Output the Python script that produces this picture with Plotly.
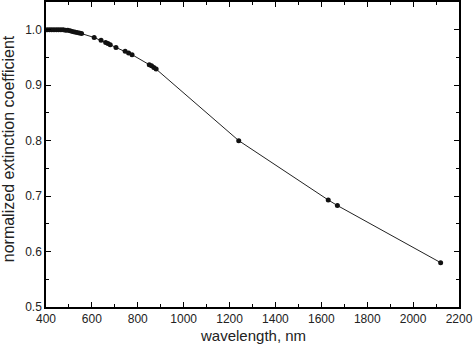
import plotly.graph_objects as go

wavelength = [405, 415, 425, 435, 445, 455, 465, 475, 485, 495, 505, 515, 525, 535, 545, 555,
              610, 640, 660, 670, 680, 705, 745, 760, 775, 850, 860, 870, 880,
              1240, 1630, 1670, 2120]
extinction = [1.000, 1.000, 1.000, 1.000, 1.000, 1.000, 1.000, 1.000, 0.999, 0.999, 0.998, 0.997, 0.996, 0.995, 0.994, 0.993,
              0.986, 0.981, 0.977, 0.975, 0.973, 0.968, 0.961, 0.958, 0.955, 0.937, 0.935, 0.932, 0.929,
              0.800, 0.693, 0.683, 0.580]

x_ticks = [400, 600, 800, 1000, 1200, 1400, 1600, 1800, 2000, 2200]
y_ticks = [0.5, 0.6, 0.7, 0.8, 0.9, 1.0]

FONT = "Liberation Sans, Arial, sans-serif"

fig = go.Figure(go.Scatter(
    x=wavelength, y=extinction, mode="lines+markers",
    line=dict(color="#222222", width=1),
    marker=dict(color="#111111", size=5),
))

axis_common = dict(
    showgrid=False, zeroline=False, showline=True, linecolor="black", linewidth=1.5,
    mirror="ticks", ticks="inside", ticklen=5, tickcolor="black", tickwidth=1,
    tickfont=dict(family=FONT, size=12, color="#222222"), automargin=False,
)

fig.update_layout(
    width=474, height=352,
    margin=dict(l=46, r=15, t=2, b=45),
    paper_bgcolor="white", plot_bgcolor="white",
    showlegend=False,
    xaxis=dict(
        range=[400, 2200], tickvals=x_ticks, ticktext=[str(v) for v in x_ticks],
        minor=dict(dtick=100, tick0=400, ticks="inside", ticklen=3, tickcolor="black"),
        **axis_common,
    ),
    yaxis=dict(
        range=[0.5, 1.05], tickvals=y_ticks, ticktext=[f"{v:.1f}" for v in y_ticks],
        minor=dict(dtick=0.05, tick0=0.5, ticks="inside", ticklen=3, tickcolor="black"),
        **axis_common,
    ),
    annotations=[
        dict(
            text="wavelength, nm", xref="paper", yref="paper", x=0.5, y=-0.092,
            xanchor="center", yanchor="middle", showarrow=False,
            font=dict(family=FONT, size=15, color="#222222"),
        ),
        dict(
            text="normalized extinction coefficient", xref="paper", yref="paper",
            x=-0.09, y=0.52, xanchor="center", yanchor="middle", textangle=-90,
            showarrow=False, font=dict(family=FONT, size=16, color="#222222"),
        ),
    ],
)

fig.write_html(
    "out.html",
    config={"displayModeBar": False},
    post_script="document.body.style.margin='0';document.body.style.padding='0';",
)
